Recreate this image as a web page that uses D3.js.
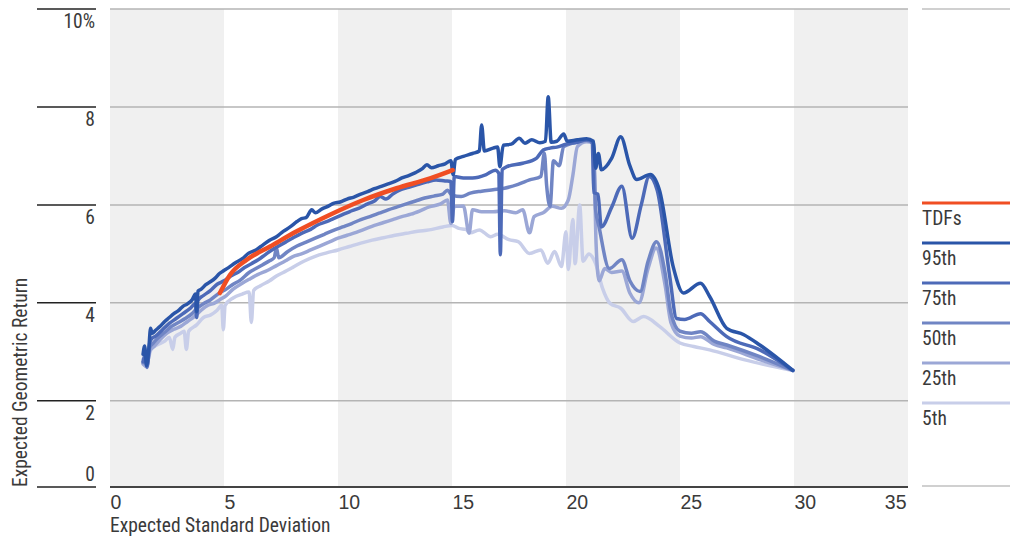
<!DOCTYPE html>
<html>
<head>
<meta charset="utf-8">
<script src="https://cdn.jsdelivr.net/npm/d3@7"></script>
<style>
  body { margin: 0; background: #fff; }
  svg { display: block; font-family: "Liberation Sans Narrow", "Roboto Condensed", "DejaVu Sans Condensed", sans-serif; }
</style>
</head>
<body>
<div id="chart"></div>
<script>
// Risk / return frontier percentiles vs. target-date funds

var xTicks = [0, 5, 10, 15, 20, 25, 30, 35]
var yTicks = [0, 2, 4, 6, 8, 10]
var yTickLabels = ["0", "2", "4", "6", "8", "10%"]
var seriesNames = ["TDFs", "95th", "75th", "50th", "25th", "5th"]
var seriesColors = ["#f04e23", "#2a55a8", "#4d6ab8", "#7085c4", "#9ba7d6", "#c8cee9"]

// [expected std dev, expected geometric return]
var tdfs = [[4.82,4.20],[5.26,4.57],[6.0,4.88],[7.02,5.15],[8.19,5.46],[9.65,5.80],[11.11,6.10],[12.57,6.34],[14.04,6.54],[15.03,6.71]]

var p95 = [[1.45,2.95],[1.52,3.12],[1.6,2.72],[1.7,3.05],[1.78,3.48],[1.85,3.38],[2.0,3.44],[2.2,3.52],[2.4,3.62],[2.6,3.70],[2.8,3.78],[3.0,3.84],[3.2,3.93],[3.4,3.98],[3.6,4.06],[3.75,4.18],[3.8,3.82],[3.86,4.24],[4.0,4.28],[4.2,4.37],[4.4,4.43],[4.6,4.50],[4.8,4.60],[5.0,4.66],[5.2,4.72],[5.5,4.82],[5.8,4.90],[6.1,5.02],[6.4,5.08],[6.7,5.18],[7.0,5.28],[7.3,5.35],[7.6,5.46],[7.9,5.55],[8.2,5.66],[8.4,5.72],[8.6,5.74],[8.85,5.90],[9.0,5.84],[9.3,5.92],[9.6,5.98],[9.8,6.03],[10.1,6.06],[10.4,6.12],[10.7,6.16],[11.0,6.22],[11.3,6.27],[11.6,6.33],[11.9,6.38],[12.2,6.43],[12.5,6.48],[12.8,6.55],[13.1,6.60],[13.4,6.66],[13.7,6.74],[13.9,6.82],[14.1,6.76],[14.4,6.80],[14.7,6.84],[14.95,6.90],[15.05,6.62],[15.15,6.93],[15.5,6.99],[15.9,7.05],[16.2,7.10],[16.3,7.63],[16.42,7.10],[16.8,7.16],[17.0,7.18],[17.1,6.78],[17.25,7.22],[17.6,7.24],[17.95,7.36],[18.2,7.26],[18.5,7.33],[18.85,7.27],[19.1,7.30],[19.22,8.21],[19.35,7.28],[19.6,7.30],[19.9,7.45],[20.05,7.30],[20.5,7.33],[20.9,7.35],[21.2,7.30],[21.3,6.75],[21.42,7.05],[21.55,6.72],[22.0,6.95],[22.4,7.39],[22.8,6.80],[23.1,6.52],[23.7,6.62],[24.1,6.30],[24.7,4.74],[25.15,4.20],[25.9,4.40],[26.3,4.13],[27.05,3.48],[27.8,3.35],[28.5,3.14],[29.95,2.62]]

var p75 = [[1.45,2.80],[1.55,2.95],[1.62,2.70],[1.75,3.20],[1.85,3.28],[2.0,3.32],[2.3,3.45],[2.6,3.58],[2.9,3.68],[3.2,3.78],[3.5,3.88],[3.75,3.98],[3.8,3.70],[3.86,4.05],[4.1,4.15],[4.4,4.25],[4.7,4.38],[5.0,4.45],[5.3,4.55],[5.6,4.62],[5.9,4.72],[6.2,4.80],[6.5,4.88],[6.8,4.98],[7.1,5.08],[7.4,5.16],[7.7,5.24],[8.0,5.32],[8.4,5.42],[8.8,5.50],[9.1,5.59],[9.5,5.66],[9.8,5.72],[10.2,5.80],[10.5,5.86],[10.9,5.93],[11.3,6.02],[11.6,6.08],[11.85,6.17],[12.1,6.12],[12.4,6.22],[12.7,6.30],[13.1,6.36],[13.45,6.41],[13.9,6.47],[14.3,6.51],[14.7,6.49],[14.95,6.48],[15.02,5.66],[15.1,6.58],[15.5,6.55],[15.9,6.55],[16.5,6.62],[16.9,6.71],[17.05,6.65],[17.12,4.98],[17.2,6.72],[17.4,6.78],[18.1,6.85],[18.7,6.95],[19.0,7.12],[19.3,7.16],[19.6,7.18],[20.0,7.24],[20.5,7.28],[20.9,7.33],[21.15,7.30],[21.22,6.25],[21.4,6.22],[21.55,5.55],[22.0,5.95],[22.45,6.38],[22.9,5.32],[23.3,6.0],[23.65,6.58],[24.0,6.30],[24.55,4.54],[24.85,3.68],[25.2,3.66],[25.9,3.78],[26.3,3.62],[27.05,3.31],[28.5,3.04],[29.95,2.62]]

var p50 = [[1.45,2.78],[1.55,2.88],[1.62,2.68],[1.75,3.10],[1.9,3.18],[2.1,3.28],[2.4,3.40],[2.7,3.52],[3.0,3.60],[3.3,3.68],[3.6,3.78],[3.8,3.88],[4.1,3.98],[4.4,4.06],[4.8,4.20],[5.1,4.28],[5.4,4.38],[5.7,4.46],[6.1,4.62],[6.4,4.70],[6.7,4.78],[7.0,4.86],[7.2,4.92],[7.3,5.12],[7.4,4.92],[7.8,5.05],[8.2,5.16],[8.6,5.24],[9.0,5.32],[9.4,5.40],[9.8,5.48],[10.2,5.55],[10.6,5.62],[11.0,5.70],[11.4,5.76],[11.8,5.83],[12.2,5.90],[12.6,5.96],[13.0,6.02],[13.4,6.08],[13.8,6.14],[14.2,6.18],[14.6,6.22],[14.8,6.30],[15.0,6.20],[15.4,6.17],[15.8,6.24],[16.3,6.28],[16.8,6.31],[17.3,6.34],[17.9,6.42],[18.4,6.51],[18.9,6.58],[19.05,7.06],[19.15,6.40],[19.3,5.97],[19.45,6.9],[19.7,6.8],[19.9,7.19],[20.3,7.26],[20.9,7.32],[21.2,7.25],[21.3,5.90],[21.45,5.55],[21.9,4.70],[22.45,4.88],[22.8,4.45],[23.25,4.23],[23.6,4.85],[23.97,5.25],[24.35,4.60],[24.6,3.80],[25.0,3.42],[25.5,3.38],[25.9,3.41],[26.5,3.22],[27.05,3.14],[28.5,2.90],[29.95,2.62]]

var p25 = [[1.45,2.75],[1.6,2.70],[1.75,3.02],[1.95,3.12],[2.2,3.25],[2.5,3.38],[2.8,3.46],[3.1,3.52],[3.4,3.62],[3.7,3.72],[4.0,3.85],[4.3,3.95],[4.6,4.00],[4.8,4.06],[5.1,4.15],[5.4,4.28],[5.8,4.40],[6.1,4.48],[6.5,4.58],[6.9,4.66],[7.3,4.76],[7.7,4.86],[8.0,4.94],[8.4,5.00],[8.8,5.08],[9.2,5.16],[9.6,5.24],[10.0,5.32],[10.4,5.38],[10.8,5.44],[11.2,5.51],[11.6,5.58],[12.0,5.64],[12.4,5.70],[12.8,5.76],[13.2,5.81],[13.6,5.88],[14.0,5.96],[14.5,6.02],[14.8,6.10],[14.95,5.62],[15.1,5.97],[15.5,5.98],[15.75,5.42],[15.9,5.90],[16.3,5.86],[16.8,5.86],[17.3,5.88],[17.8,5.84],[18.1,5.90],[18.4,5.43],[18.6,5.76],[19.0,5.84],[19.4,5.97],[19.8,5.93],[20.1,6.10],[20.3,6.60],[20.5,7.19],[20.9,7.29],[21.2,7.28],[21.32,5.20],[21.45,4.45],[21.7,4.70],[22.0,4.62],[22.45,4.65],[22.8,4.20],[23.2,4.00],[23.6,4.70],[23.95,5.12],[24.35,4.35],[24.6,3.60],[25.0,3.32],[25.5,3.28],[25.9,3.31],[26.5,3.15],[27.05,3.08],[28.5,2.84],[29.95,2.62]]

var p05 = [[1.45,2.85],[1.6,2.75],[1.8,3.05],[2.1,3.15],[2.4,3.22],[2.6,3.30],[2.75,3.05],[2.85,3.30],[3.1,3.38],[3.25,3.42],[3.35,3.05],[3.45,3.42],[3.8,3.55],[4.1,3.70],[4.4,3.75],[4.7,3.85],[4.9,3.95],[4.97,3.45],[5.05,3.95],[5.4,4.10],[5.8,4.18],[6.1,4.22],[6.2,3.60],[6.3,4.25],[6.6,4.35],[7.0,4.45],[7.3,4.55],[7.6,4.62],[8.0,4.72],[8.5,4.85],[9.0,4.95],[9.5,5.02],[10.0,5.08],[10.5,5.15],[11.0,5.22],[11.5,5.28],[12.0,5.33],[12.5,5.38],[13.0,5.42],[13.5,5.46],[14.0,5.49],[14.6,5.55],[15.0,5.58],[15.3,5.52],[15.6,5.50],[15.8,5.43],[16.2,5.49],[16.7,5.35],[17.0,5.40],[17.5,5.29],[17.9,5.25],[18.4,5.01],[18.9,5.08],[19.2,4.81],[19.5,5.05],[19.8,4.74],[20.0,5.45],[20.1,4.68],[20.3,5.70],[20.4,4.80],[20.6,6.00],[20.75,4.85],[21.0,5.00],[21.3,4.80],[21.6,4.30],[21.93,3.99],[22.4,3.89],[22.95,3.62],[23.4,3.72],[24.1,3.52],[25.0,3.18],[25.6,3.11],[26.3,3.04],[27.8,2.84],[29.95,2.62]]

var seriesData = [tdfs, p95, p75, p50, p25, p05]

var width = 1017, height = 554
var plot = { left: 110, right: 908, top: 9, bottom: 487 }
var yMin = 0.24

var x = d3.scaleLinear()
    .domain([0, 35])
    .range([plot.left, plot.right])

var y = d3.scaleLinear()
    .domain([yMin, 10])
    .range([plot.bottom, plot.top])

var yPos = d => y(Math.max(d, yMin))

var line = d3.line()
    .x(d => x(d[0]))
    .y(d => y(d[1]))
    .curve(d3.curveMonotoneX)

const svg = d3.select('#chart')
  .append('svg')
    .attr('width', width)
    .attr('height', height)

// alternating column bands
svg.append('g')
  .selectAll('rect')
  .data(xTicks.slice(0, -1).filter((d, i) => i % 2 === 0))
  .join('rect')
    .attr('x', d => x(d))
    .attr('y', plot.top)
    .attr('width', d => x(d + 5) - x(d))
    .attr('height', plot.bottom - plot.top)
    .attr('fill', '#f0f0f0')

// horizontal grid
svg.append('g')
  .selectAll('line')
  .data(yTicks.filter(d => d > 0))
  .join('line')
    .attr('x1', plot.left)
    .attr('x2', plot.right)
    .attr('y1', d => y(d))
    .attr('y2', d => y(d))
    .attr('stroke', '#b4b4b4')
    .attr('stroke-width', 1.5)

// y ticks sit off to the left of the plot
const yAxis = svg.append('g')
yAxis.selectAll('line')
  .data(yTicks)
  .join('line')
    .attr('x1', 37)
    .attr('x2', 96)
    .attr('y1', yPos)
    .attr('y2', yPos)
    .attr('stroke', '#222')
    .attr('stroke-width', 1.5)
yAxis.selectAll('text')
  .data(yTicks)
  .join('text')
    .attr('x', 95)
    .attr('y', d => d === 0 ? yPos(d) - 6 : yPos(d) + 19)
    .attr('text-anchor', 'end')
    .attr('fill', '#3a3a3a')
    .style('font-size', '19.5px')
    .text((d, i) => yTickLabels[i])

// x axis
svg.append('g')
    .attr('transform', 'translate(0,' + plot.bottom + ')')
    .call(d3.axisBottom(x).tickValues(xTicks).tickSize(0).tickPadding(8).tickFormat(d => d))
    .call(g => g.select('.domain').remove())
    .call(g => g.selectAll('.tick text')
        .attr('fill', '#3a3a3a')
        .attr('text-anchor', (d, i) => i === xTicks.length - 1 ? 'end' : 'start')
        .attr('x', (d, i) => i === xTicks.length - 1 ? -2 : 0)
        .style('font-size', '19.5px')
        .style('font-family', null))

svg.append('line')
    .attr('x1', plot.left)
    .attr('x2', plot.right)
    .attr('y1', plot.bottom)
    .attr('y2', plot.bottom)
    .attr('stroke', '#444')
    .attr('stroke-width', 2)

svg.append('text')
    .attr('x', plot.left)
    .attr('y', 532)
    .attr('fill', '#3a3a3a')
    .style('font-size', '19.5px')
    .text('Expected Standard Deviation')

svg.append('text')
    .attr('transform', 'translate(27,' + plot.bottom + ') rotate(-90)')
    .attr('fill', '#3a3a3a')
    .style('font-size', '19.5px')
    .text('Expected Geometric Return')

// series, lightest first so the darker ones sit on top
const order = [5, 4, 3, 2, 1, 0]
svg.append('g')
    .attr('fill', 'none')
    .attr('stroke-linejoin', 'round')
    .attr('stroke-linecap', 'round')
  .selectAll('path')
  .data(order)
  .join('path')
    .attr('d', i => line(seriesData[i]))
    .attr('stroke', i => seriesColors[i])
    .attr('stroke-width', i => i === 0 ? 4.5 : 3.5)

// legend
const legend = svg.append('g')
legend.selectAll('line.frame')
  .data([plot.top, plot.bottom - 1])
  .join('line')
    .attr('class', 'frame')
    .attr('x1', 922)
    .attr('x2', 1010)
    .attr('y1', d => d)
    .attr('y2', d => d)
    .attr('stroke', '#d0d0d0')
    .attr('stroke-width', 2)

const item = legend.selectAll('g')
  .data(seriesNames)
  .join('g')
    .attr('transform', (d, i) => 'translate(922,' + (203 + i * 40) + ')')
item.append('line')
    .attr('x2', 88)
    .attr('stroke', (d, i) => seriesColors[i])
    .attr('stroke-width', 3)
item.append('text')
    .attr('y', 22)
    .attr('fill', '#3a3a3a')
    .style('font-size', '19.5px')
    .text(d => d)
</script>
</body>
</html>
